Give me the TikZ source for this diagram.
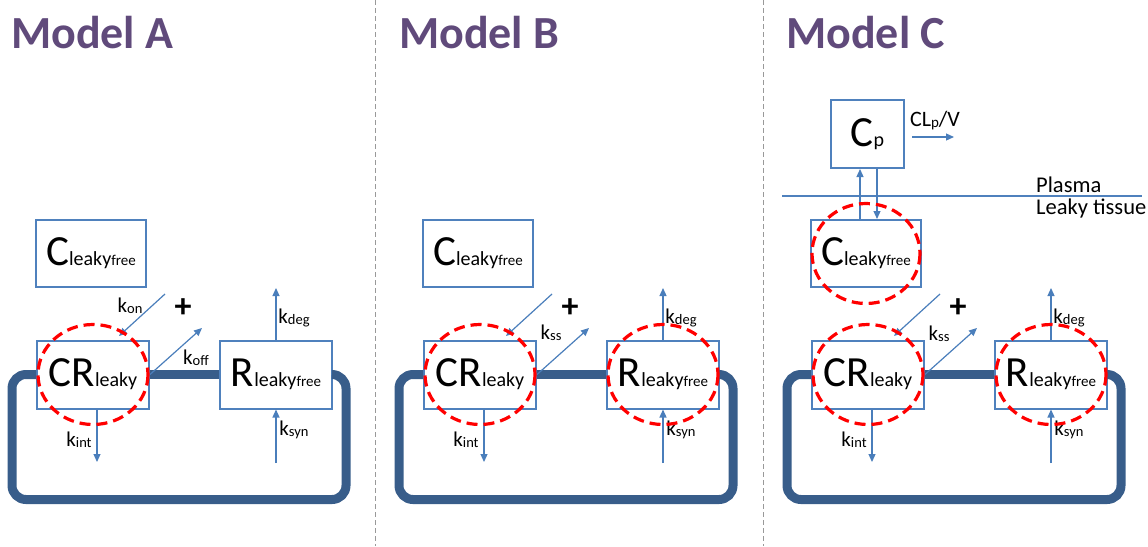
\documentclass[tikz,border=0pt]{standalone}
\usepackage{fontspec}
\setmainfont{Carlito}
\usetikzlibrary{arrows.meta}

\definecolor{boxblue}{HTML}{4F81BD}
\definecolor{loopblue}{HTML}{385D8A}
\definecolor{arrowblue}{HTML}{4A7EBB}
\definecolor{titlepurple}{HTML}{604A7B}

% compartment label: big letter, then two smaller parts
\newcommand{\compname}[3]{{\fontsize{43}{43}\selectfont #1}{\fontsize{20}{20}\selectfont #2}{\fontsize{15}{15}\selectfont #3}}
% rate constant with its subscript
\newcommand{\krate}[1]{k\raisebox{-1pt}{\fontsize{14.5}{14.5}\selectfont #1}}

\begin{document}
\begin{tikzpicture}[
    x=1pt, y=-1pt,
    compartment/.style={draw=boxblue, line width=2pt, fill=white, inner sep=0pt, minimum width=112pt, minimum height=68pt},
    bond/.style={draw=loopblue, line width=9pt, rounded corners=14pt},
    flow/.style={-{Triangle[length=8pt,width=7pt]}, draw=arrowblue, line width=1.2pt},
    leaky/.style={draw=red, line width=3.2pt, dash pattern=on 11pt off 6pt},
    rate/.style={font=\fontsize{21}{21}\selectfont, inner sep=0pt},
    title/.style={font=\fontsize{46}{46}\selectfont\bfseries, text=titlepurple, anchor=west, inner sep=0pt},
    divider/.style={draw=gray!80, line width=1pt, dash pattern=on 5pt off 3pt}
]
\useasboundingbox (0,0) rectangle (1148,546);

% Panel dividers
\draw[divider] (375,0) -- (375,546);
\draw[divider] (763,0) -- (763,546);

% Titles
\node[title] (titleA) at (11,33) {Model A};
\node[title] (titleB) at (399,33) {Model B};
\node[title] (titleC) at (786,33) {Model C};

% Shared part of the three models
\foreach \m/\dx in {A/0, B/387, C/775} {
  \begin{scope}[xshift=\dx pt]
    \node[compartment, minimum width=110pt, minimum height=67pt] (cfree\m) at (91,253.5) {\compname{C}{leaky}{free}};
    \node[compartment] (cr\m) at (93,374.5) {\compname{CR}{leaky}{}};
    \node[compartment] (r\m) at (276,374.5) {\compname{R}{leaky}{free}};

    % receptor loop
    \draw[bond] (cr\m.west) -- ++(-24,0) -- ++(0,125) -- ++(334,0) -- ++(0,-125) -- (r\m.east);
    \draw[bond] (cr\m.east) -- (r\m.west);

    % binding
    \coordinate (bindfrom\m) at (165,294);
    \coordinate (bindto\m) at (119,336);
    \coordinate (release\m) at (202,328);
    \draw[flow] (bindfrom\m) -- (bindto\m);
    \draw[flow] (cr\m.east) -- (release\m);
    \node[font=\fontsize{34}{34}\selectfont\bfseries] (plus\m) at (183,308) {+};

    % turnover
    \coordinate (int\m) at (97,462);
    \coordinate (deg\m) at (276,288);
    \coordinate (syn\m) at (276,463);
    \draw[flow] (cr\m.south -| int\m) -- (int\m);
    \draw[flow] (r\m.north -| deg\m) -- (deg\m);
    \draw[flow] (syn\m) -- (r\m.south -| syn\m);
    \node[rate] (kint\m) at (79,440) {\krate{int}};
    \node[rate] (kdeg\m) at (294,318) {\krate{deg}};
    \node[rate] (ksyn\m) at (294,430) {\krate{syn}};
  \end{scope}
}

% Model A rates
\node[rate] (kon) at (130,306) {\krate{on}};
\node[rate] (koff) at (196,358) {\krate{off}};

% Model B and C rates
\node[rate] (kssB) at (551,333) {\krate{ss}};
\node[rate] (kssC) at (939,334) {\krate{ss}};

% Model C plasma compartment
\node[compartment, minimum width=73pt, minimum height=68pt] (cp) at (867.5,134) {\compname{C}{p}{}};
\draw[draw=boxblue, line width=1.5pt] (782,196) -- (1142,196);
\node[font=\fontsize{22.5}{22.5}\selectfont, anchor=west, inner sep=0pt] (plasma) at (1036,185) {Plasma};
\node[font=\fontsize{22.5}{22.5}\selectfont, anchor=west, inner sep=0pt] (tissue) at (1036,208) {Leaky tissue};
\coordinate (upC) at (860,0);
\coordinate (downC) at (877,0);
\draw[flow] (cfreeC.north -| upC) -- (cp.south -| upC);
\draw[flow] (cp.south -| downC) -- (cfreeC.north -| downC);
\coordinate (clfrom) at (912,137);
\coordinate (clto) at (954,137);
\draw[flow] (clfrom) -- (clto);
\node[font=\fontsize{22}{22}\selectfont, inner sep=0pt] (clp) at (935,121) {CL\raisebox{-1pt}{\fontsize{15}{15}\selectfont p}/V};

% Leaky-tissue species
\draw[leaky] (crA.center) ellipse [x radius=55, y radius=50];
\draw[leaky] (crB.center) ellipse [x radius=55, y radius=50];
\draw[leaky] (rB.center) ellipse [x radius=55, y radius=50];
\draw[leaky] (crC.center) ellipse [x radius=55, y radius=50];
\draw[leaky] (rC.center) ellipse [x radius=55, y radius=50];
\draw[leaky] (cfreeC.center) ellipse [x radius=54, y radius=50];

\end{tikzpicture}
\end{document}
